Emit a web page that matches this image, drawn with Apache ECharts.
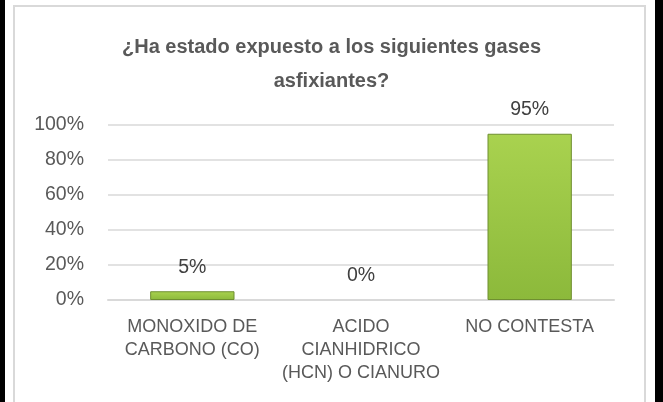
<!DOCTYPE html>
<html>
<head>
<meta charset="utf-8">
<script src="https://cdn.jsdelivr.net/npm/echarts@6/dist/echarts.min.js"></script>
<style>
  html, body { margin: 0; padding: 0; background: #fff; }
  #wrap { position: relative; width: 663px; height: 402px; overflow: hidden; }
  #chart { position: absolute; left: 0; top: 0; width: 663px; height: 402px; }
  .black { position: absolute; top: 0; height: 402px; background: #000; }
  #frame { position: absolute; left: 13px; top: 5px; width: 629px; height: 410px;
           border: 2px solid #d9d9d9; pointer-events: none; }
</style>
</head>
<body>
<div id="wrap">
  <div id="chart"></div>
  <div id="frame"></div>
  <div class="black" style="left:0;width:5px"></div>
  <div class="black" style="left:655px;width:8px"></div>
</div>
<script>
  const categories = ["MONOXIDO DE\nCARBONO (CO)", "ACIDO\nCIANHIDRICO\n(HCN) O CIANURO", "NO CONTESTA"];
  const values = [0.05, 0, 0.95];
  const yTicks = [0, 0.2, 0.4, 0.6, 0.8, 1];

  const chart = echarts.init(document.getElementById("chart"));
  const font = "Liberation Sans";

  // barras con valor 0 sin borde (no se ven en el original)
  const barData = values.map((v) => (v === 0 ? { value: v, itemStyle: { borderWidth: 0 } } : v));

  const option = {
    animation: false,
    title: {
      text: "¿Ha estado expuesto a los siguientes gases\nasfixiantes?",
      left: "center",
      top: 25,
      textStyle: {
        fontFamily: font,
        fontSize: 20,
        fontWeight: "bold",
        color: "#595959",
        lineHeight: 34,
      },
    },
    grid: { left: 108, right: 49, top: 125, bottom: 102 },
    xAxis: {
      type: "category",
      data: categories,
      axisLine: { lineStyle: { color: "#d9d9d9", width: 2 } },
      axisTick: { show: false },
      axisLabel: {
        fontFamily: font,
        fontSize: 18,
        color: "#595959",
        lineHeight: 23,
        margin: 16,
        interval: 0,
      },
    },
    yAxis: {
      type: "value",
      min: 0,
      max: yTicks[yTicks.length - 1],
      interval: 0.2,
      axisLine: { show: false },
      axisTick: { show: false },
      splitLine: { lineStyle: { color: "#d9d9d9", width: 1.5 } },
      axisLabel: {
        fontFamily: font,
        fontSize: 19.5,
        color: "#595959",
        margin: 24,
        formatter: (v) => Math.round(v * 100) + "%",
      },
    },
    series: [
      {
        type: "bar",
        data: barData,
        barWidth: "50%",
        itemStyle: {
          color: new echarts.graphic.LinearGradient(0, 0, 0, 1, [
            { offset: 0, color: "#a9d24f" },
            { offset: 1, color: "#8cb93b" },
          ]),
          borderColor: "#6f8f30",
          borderWidth: 1,
        },
        label: {
          show: true,
          position: "top",
          distance: 14,
          fontFamily: font,
          fontSize: 19.5,
          color: "#404040",
          formatter: (p) => Math.round(p.value * 100) + "%",
        },
      },
    ],
  };

  chart.setOption(option);
</script>
</body>
</html>
